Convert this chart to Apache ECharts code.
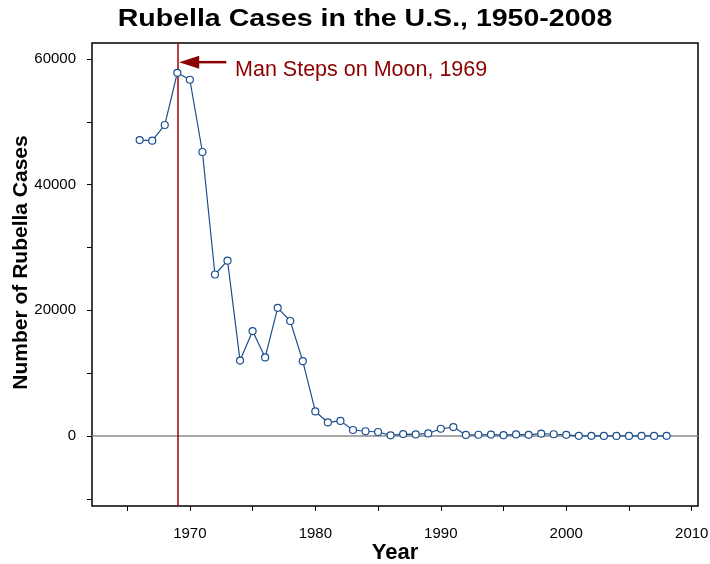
<!DOCTYPE html>
<html>
<head>
<meta charset="utf-8">
<script src="https://cdn.jsdelivr.net/npm/echarts@6/dist/echarts.min.js"></script>
<style>
  html, body { margin: 0; padding: 0; background: #fff; }
  #chart { width: 710px; height: 564px; }
</style>
</head>
<body>
<div id="chart"></div>
<script>
const years = [1966, 1967, 1968, 1969, 1970, 1971, 1972, 1973, 1974, 1975,
  1976, 1977, 1978, 1979, 1980, 1981, 1982, 1983, 1984, 1985,
  1986, 1987, 1988, 1989, 1990, 1991, 1992, 1993, 1994, 1995,
  1996, 1997, 1998, 1999, 2000, 2001, 2002, 2003, 2004, 2005,
  2006, 2007, 2008];
const cases = [47100, 47000, 49500, 57800, 56700, 45200, 25700, 27900, 12000, 16700,
  12500, 20400, 18300, 11900, 3900, 2150, 2400, 950, 750, 630,
  100, 300, 250, 400, 1150, 1420, 160, 190, 220, 130,
  240, 180, 370, 270, 180, 23, 18, 7, 10, 11,
  11, 12, 16];
const xTicks = [1965, 1970, 1975, 1980, 1985, 1990, 1995, 2000, 2005, 2010];
const xLabels = [1970, 1980, 1990, 2000, 2010];
const yTicks = [-10000, 0, 10000, 20000, 30000, 40000, 50000, 60000];
const yLabels = [0, 20000, 40000, 60000];
const eventYear = 1969;
const eventText = 'Man Steps on Moon, 1969';
const titleText = 'Rubella Cases in the U.S., 1950-2008';

const chart = echarts.init(document.getElementById('chart'));
const font = 'Liberation Sans, Arial, sans-serif';
const darkRed = '#8b0000';

const option = {
  animation: false,
  backgroundColor: '#fff',
  grid: {
    left: 92, right: 12, top: 43, bottom: 58,
    outerBoundsMode: 'none',
    containLabel: false,
    show: true, borderColor: '#000', borderWidth: 1.5
  },
  xAxis: {
    type: 'value',
    min: 1962.2,
    max: 2010.5,
    name: 'Year',
    nameLocation: 'middle',
    nameGap: 36,
    nameMoveOverlap: false,
    nameTextStyle: { fontFamily: font, fontSize: 22, fontWeight: 'bold', color: '#000' },
    axisLine: { show: false, onZero: false },
    axisTick: { show: true, length: 5, customValues: xTicks, lineStyle: { color: '#000', width: 1 } },
    axisLabel: {
      customValues: xLabels, margin: 20,
      fontFamily: font, fontSize: 15, color: '#000',
      formatter: v => String(v)
    },
    splitLine: { show: false }
  },
  yAxis: {
    type: 'value',
    min: -11150,
    max: 62550,
    name: 'Number of Rubella Cases',
    nameLocation: 'middle',
    nameGap: 60,
    nameMoveOverlap: false,
    nameTextStyle: { fontFamily: font, fontSize: 21, fontWeight: 'bold', color: '#000', padding: [0, 0, 0, 24] },
    axisLine: { show: false, onZero: false },
    axisTick: { show: true, length: 5, customValues: yTicks, lineStyle: { color: '#000', width: 1 } },
    axisLabel: {
      customValues: yLabels, margin: 16,
      fontFamily: font, fontSize: 15, color: '#000',
      formatter: v => String(v)
    },
    splitLine: { show: false }
  },
  series: [{
    type: 'line',
    data: years.map((y, i) => [y, cases[i]]),
    symbol: 'circle',
    symbolSize: 7,
    z: 5,
    lineStyle: { color: '#1b4f8f', width: 1.2 },
    itemStyle: { color: '#fff', borderColor: '#1b4f8f', borderWidth: 1.2 },
    markLine: {
      silent: true,
      symbol: 'none',
      label: { show: false },
      data: [
        { yAxis: 0, lineStyle: { color: '#8a8a8a', width: 1.5, type: 'solid' } },
        { xAxis: eventYear, lineStyle: { color: '#a00000', width: 1.5, type: 'solid' } }
      ]
    }
  }]
};
chart.setOption(option);

// title (stretched like the original) and annotation arrow/text
const tip = chart.convertToPixel({ gridIndex: 0 }, [eventYear + 0.15, 59500]);
const tail = chart.convertToPixel({ gridIndex: 0 }, [eventYear + 3.9, 59500]);
const txt = chart.convertToPixel({ gridIndex: 0 }, [eventYear + 4.6, 58300]);
chart.setOption({
  graphic: [
    {
      type: 'text', z: 10,
      x: 365, y: 20, scaleX: 1.24,
      style: {
        text: titleText, fill: '#000',
        font: 'bold 23px ' + font,
        verticalAlign: 'middle', align: 'center'
      }
    },
    {
      type: 'line', z: 10,
      shape: { x1: tip[0] + 18, y1: tip[1], x2: tail[0], y2: tail[1] },
      style: { stroke: darkRed, lineWidth: 2.5 }
    },
    {
      type: 'polygon', z: 10,
      shape: { points: [[tip[0], tip[1]], [tip[0] + 20, tip[1] - 6.5], [tip[0] + 20, tip[1] + 6.5]] },
      style: { fill: darkRed }
    },
    {
      type: 'text', z: 10,
      x: txt[0], y: txt[1],
      style: {
        text: eventText, fill: darkRed,
        font: '21.5px ' + font,
        verticalAlign: 'middle', align: 'left'
      }
    }
  ]
});
</script>
</body>
</html>
